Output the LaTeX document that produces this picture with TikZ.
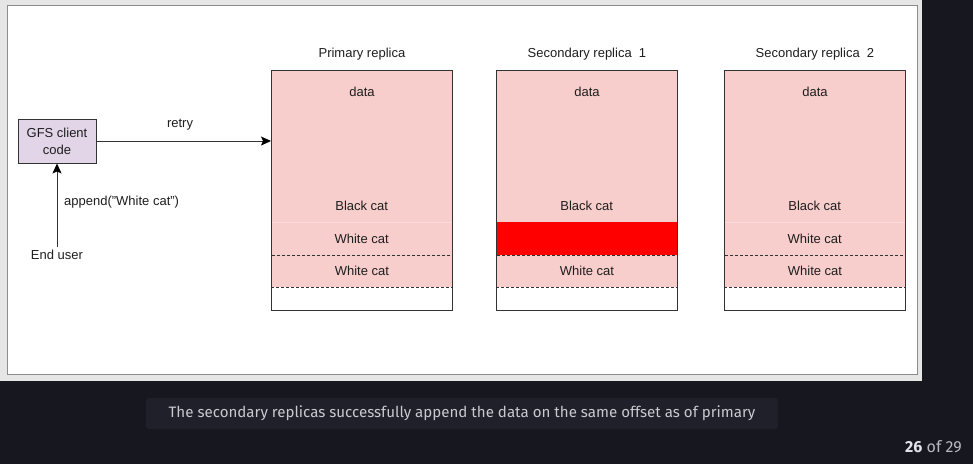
\documentclass[tikz,border=0pt]{standalone}
\usepackage{fontspec}
\setmainfont{Liberation Sans}
\newfontfamily\capfont{Fira Sans}
\usetikzlibrary{arrows.meta}
\definecolor{bgdark}{HTML}{16171F}
\definecolor{capbg}{HTML}{1F2029}
\definecolor{captxt}{HTML}{C8CAD0}
\definecolor{framegrey}{HTML}{E6E6E6}
\definecolor{frameline}{HTML}{8C8C8C}
\definecolor{pinkc}{HTML}{F8CECC}
\definecolor{pinkline}{HTML}{FADADA}
\definecolor{redc}{HTML}{FF0000}
\definecolor{purplec}{HTML}{E1D5E7}
\definecolor{boxc}{HTML}{333333}
\definecolor{txtc}{HTML}{1E1E1E}
\tikzset{
  dtext/.style={font=\fontsize{13}{15}\selectfont, text=txtc, inner sep=1pt},
  outerbox/.style={draw=boxc, line width=0.9pt, fill=white, minimum width=181pt, minimum height=240pt, anchor=north west, inner sep=0},
  cellbox/.style={minimum width=181pt, anchor=north west, inner sep=0, draw=none},
  dashcell/.style={cellbox, fill=pinkc, draw=boxc, line width=0.9pt, dash pattern=on 3pt off 2pt},
  conn/.style={draw=boxc, line width=1pt, -{Stealth[length=10pt,width=9pt,inset=2pt,color=black]}},
}
\begin{document}
\begin{tikzpicture}[x=1pt,y=-1pt]
\useasboundingbox (0,0) rectangle (973,464);
% background
\fill[bgdark] (0,0) rectangle (973,464);
\fill[framegrey] (0,0) rectangle (922,381);
\draw[frameline, fill=white, line width=0.8pt] (7,5) rectangle (917,374);

% replicas
\foreach \nm/\L/\title/\mid in {p/271/Primary replica/w, s/496/Secondary replica\ \ 1/r, t/724/Secondary replica\ \ 2/w}{
  \node[outerbox] (\nm-box) at (\L,70) {};
  \node[cellbox, fill=pinkc, minimum height=152pt] (\nm-data) at (\L,70) {};
  \if r\mid
    \node[cellbox, fill=redc, minimum height=33pt] (\nm-w1) at (\L,222) {};
  \else
    \node[cellbox, fill=pinkc, minimum height=33pt] (\nm-w1) at (\L,222) {};
    \draw[pinkline, line width=0.8pt] (\nm-w1.north west) -- (\nm-w1.north east);
    \node[dtext] (\nm-w1t) at ([yshift=-0.5pt]\nm-w1.center) {White cat};
  \fi
  \node[dashcell, minimum height=32pt] (\nm-w2) at (\L,255) {};
  \node[dtext] (\nm-w2t) at ([yshift=0.5pt]\nm-w2.center) {White cat};
  \draw[boxc, line width=0.9pt] (\nm-box.north west) rectangle (\nm-box.south east);
  \node[dtext] (\nm-dt) at ([yshift=-21.5pt]\nm-box.north) {data};
  \node[dtext] (\nm-bc) at ([yshift=17pt]\nm-data.south) {Black cat};
  \node[dtext] (\nm-title) at ([yshift=16pt]\nm-box.north) {\title};
}

% client
\node[draw=boxc, line width=0.9pt, fill=purplec, minimum width=78pt, minimum height=44pt, inner sep=0, align=center, font=\fontsize{13}{17}\selectfont, text=txtc] (gfs) at (57,141) {GFS client\\code};
\node[dtext, inner sep=3pt] (eu) at (57,255) {End user};
\draw[conn] (eu.north) -- (gfs.south);
\draw[conn] (gfs.east) -- (gfs.east -| p-box.west);
\node[dtext] (retry) at (180,125) {retry};
\node[dtext, anchor=west] (app) at (63,202.5) {append("White cat")};

% caption
\node[fill=capbg, rounded corners=3pt, minimum width=632pt, minimum height=31pt, inner sep=0] (capbox) at (462,413.5) {};
\node[font=\capfont\fontsize{15.1}{18}\selectfont, text=captxt, inner sep=0] (cap) at (capbox.center) {The secondary replicas successfully append the data on the same offset as of primary};
\node[font=\capfont\fontsize{16}{19}\selectfont, anchor=east, inner sep=0] (pg) at (962,447) {\textcolor[HTML]{E2E3E8}{\bfseries 26} \textcolor[HTML]{B9BBC1}{of 29}};
\end{tikzpicture}
\end{document}
